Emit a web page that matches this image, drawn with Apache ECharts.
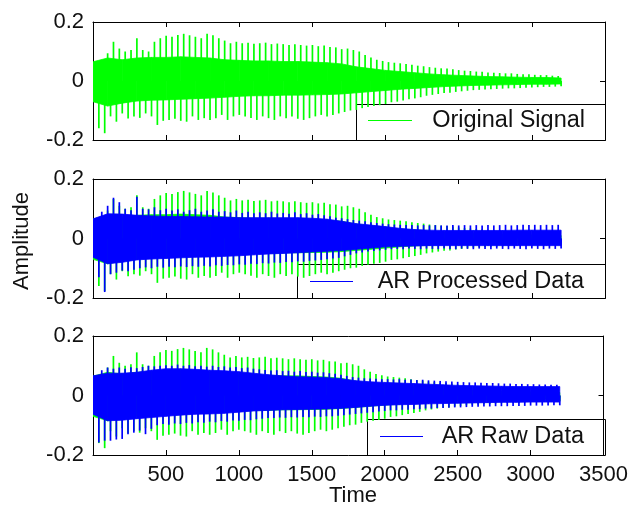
<!DOCTYPE html>
<html>
<head>
<meta charset="utf-8">
<script src="https://cdn.jsdelivr.net/npm/echarts@6/dist/echarts.min.js"></script>
<style>html,body{margin:0;padding:0;background:#fff}#c{width:631px;height:506px}</style>
</head>
<body>
<div id="c"></div>
<script>
// ---- data ----
const xTicks = [500, 1000, 1500, 2000, 2500, 3000, 3500];
const yTicks = [-0.2, 0, 0.2];
const legendNames = ['Original Signal', 'AR Processed Data', 'AR Raw Data'];

// dense core envelope, one value every 100 time units (t = 0..3200)
const coreStep = 100;
const greenCoreHi = [0.065,0.078,0.072,0.078,0.08,0.08,0.082,0.08,0.078,0.072,0.07,0.068,0.068,0.066,0.066,0.064,0.062,0.058,0.048,0.042,0.036,0.032,0.028,0.024,0.021,0.019,0.017,0.015,0.014,0.013,0.012,0.012,0.01];
const greenCoreLo = [-0.07,-0.085,-0.075,-0.068,-0.065,-0.064,-0.062,-0.06,-0.058,-0.055,-0.052,-0.05,-0.05,-0.048,-0.048,-0.047,-0.046,-0.044,-0.04,-0.036,-0.032,-0.028,-0.025,-0.022,-0.019,-0.017,-0.015,-0.014,-0.013,-0.012,-0.011,-0.011,-0.01];
const procCoreHi = [0.066,0.083,0.082,0.078,0.076,0.074,0.074,0.073,0.072,0.072,0.07,0.07,0.07,0.07,0.07,0.068,0.065,0.058,0.05,0.045,0.04,0.034,0.03,0.028,0.027,0.027,0.027,0.027,0.027,0.028,0.028,0.028,0.028];
const procCoreLo = [-0.063,-0.085,-0.08,-0.072,-0.069,-0.067,-0.065,-0.063,-0.062,-0.06,-0.058,-0.055,-0.052,-0.05,-0.048,-0.045,-0.043,-0.04,-0.036,-0.032,-0.028,-0.026,-0.025,-0.024,-0.024,-0.024,-0.024,-0.024,-0.024,-0.024,-0.024,-0.024,-0.024];
const rawCoreHi = [0.066,0.075,0.075,0.078,0.085,0.09,0.09,0.088,0.085,0.083,0.08,0.075,0.07,0.066,0.063,0.062,0.06,0.056,0.05,0.046,0.044,0.042,0.04,0.038,0.036,0.034,0.033,0.032,0.031,0.03,0.03,0.03,0.03];
const rawCoreLo = [-0.063,-0.085,-0.083,-0.078,-0.074,-0.07,-0.066,-0.063,-0.062,-0.06,-0.056,-0.052,-0.05,-0.048,-0.047,-0.046,-0.045,-0.043,-0.04,-0.036,-0.033,-0.031,-0.03,-0.028,-0.027,-0.026,-0.025,-0.024,-0.023,-0.023,-0.022,-0.022,-0.022];

// oscillation peaks, one every 40 time units (upper at t=20+40k, lower at t=40+40k)
const peakStep = 40;
const greenPeakHi = [0.065,0.07,0.094,0.133,0.11,0.1,0.105,0.145,0.105,0.1,
0.133,0.145,0.153,0.15,0.156,0.16,0.155,0.15,0.145,0.16,
0.155,0.145,0.137,0.128,0.133,0.128,0.13,0.126,0.128,0.13,
0.125,0.127,0.125,0.122,0.125,0.122,0.12,0.122,0.118,0.12,
0.115,0.114,0.108,0.11,0.105,0.1,0.088,0.08,0.072,0.068,
0.064,0.062,0.06,0.058,0.055,0.052,0.05,0.047,0.045,0.043,
0.042,0.04,0.037,0.035,0.034,0.032,0.031,0.029,0.028,0.027,
0.026,0.026,0.024,0.023,0.023,0.021,0.02,0.02,0.018,0.017];
const greenPeakLo = [-0.16,-0.177,-0.12,-0.138,-0.11,-0.127,-0.12,-0.125,-0.11,-0.12,
-0.149,-0.135,-0.132,-0.128,-0.135,-0.138,-0.12,-0.132,-0.126,-0.132,
-0.126,-0.115,-0.132,-0.12,-0.115,-0.12,-0.125,-0.132,-0.12,-0.126,
-0.132,-0.12,-0.126,-0.12,-0.128,-0.132,-0.126,-0.12,-0.115,-0.12,
-0.115,-0.11,-0.105,-0.1,-0.098,-0.092,-0.088,-0.085,-0.082,-0.078,
-0.072,-0.07,-0.066,-0.062,-0.059,-0.055,-0.05,-0.047,-0.044,-0.041,
-0.04,-0.037,-0.035,-0.033,-0.031,-0.03,-0.029,-0.028,-0.027,-0.026,
-0.025,-0.025,-0.024,-0.023,-0.022,-0.021,-0.02,-0.02,-0.019,-0.018];
const procPeakHi = [0.066,0.09,0.11,0.137,0.122,0.1,0.095,0.14,0.1,0.098,
0.105,0.095,0.1,0.094,0.098,0.09,0.095,0.1,0.09,0.094,
0.098,0.09,0.092,0.088,0.094,0.086,0.09,0.085,0.088,0.085,
0.09,0.084,0.086,0.083,0.088,0.082,0.085,0.08,0.082,0.078,
0.075,0.07,0.068,0.065,0.062,0.06,0.058,0.055,0.052,0.05,
0.048,0.047,0.046,0.045,0.045,0.044,0.045,0.044,0.045,0.044,
0.044,0.045,0.044,0.045,0.044,0.045,0.044,0.045,0.044,0.045,
0.046,0.044,0.045,0.046,0.045,0.046,0.045,0.046,0.045,0.046];
const procPeakLo = [-0.13,-0.18,-0.12,-0.115,-0.108,-0.11,-0.105,-0.1,-0.097,-0.1,
-0.095,-0.098,-0.095,-0.097,-0.094,-0.096,-0.093,-0.095,-0.092,-0.094,
-0.09,-0.092,-0.089,-0.09,-0.087,-0.088,-0.085,-0.086,-0.083,-0.084,
-0.081,-0.082,-0.079,-0.08,-0.077,-0.078,-0.075,-0.074,-0.072,-0.07,
-0.067,-0.065,-0.06,-0.055,-0.05,-0.047,-0.044,-0.042,-0.04,-0.038,
-0.036,-0.035,-0.036,-0.034,-0.035,-0.036,-0.034,-0.035,-0.036,-0.034,
-0.035,-0.036,-0.034,-0.035,-0.036,-0.034,-0.035,-0.036,-0.034,-0.035,
-0.036,-0.034,-0.035,-0.036,-0.034,-0.035,-0.036,-0.034,-0.035,-0.034];
const rawPeakHi = [0.066,0.085,0.094,0.09,0.094,0.09,0.095,0.092,0.096,0.1,
0.098,0.1,0.102,0.1,0.104,0.1,0.102,0.098,0.1,0.097,
0.1,0.096,0.098,0.094,0.096,0.092,0.094,0.09,0.088,0.086,
0.084,0.085,0.082,0.083,0.08,0.082,0.079,0.08,0.077,0.078,
0.075,0.073,0.07,0.066,0.062,0.06,0.058,0.057,0.056,0.055,
0.055,0.054,0.055,0.053,0.054,0.052,0.053,0.051,0.05,0.049,
0.048,0.047,0.046,0.045,0.044,0.044,0.043,0.042,0.042,0.041,
0.04,0.04,0.039,0.039,0.038,0.038,0.037,0.037,0.036,0.036];
const rawPeakLo = [-0.158,-0.152,-0.152,-0.148,-0.146,-0.13,-0.125,-0.118,-0.13,-0.112,
-0.1,-0.096,-0.098,-0.094,-0.096,-0.092,-0.094,-0.09,-0.092,-0.088,
-0.09,-0.086,-0.088,-0.084,-0.085,-0.082,-0.083,-0.08,-0.078,-0.076,
-0.076,-0.074,-0.075,-0.073,-0.074,-0.072,-0.073,-0.071,-0.072,-0.07,
-0.07,-0.068,-0.066,-0.064,-0.062,-0.06,-0.058,-0.056,-0.054,-0.052,
-0.05,-0.05,-0.048,-0.048,-0.046,-0.046,-0.044,-0.044,-0.042,-0.042,
-0.041,-0.04,-0.04,-0.039,-0.038,-0.038,-0.037,-0.037,-0.036,-0.036,
-0.036,-0.035,-0.035,-0.035,-0.034,-0.034,-0.034,-0.034,-0.033,-0.033];

// ---- build the chart ----
const GREEN = '#00ff00', BLUE = '#0000ff';
const FONT = 'Liberation Sans, Arial, sans-serif';
const grids = [
  {left: 93, top: 22, width: 512, height: 118},
  {left: 93, top: 179, width: 512, height: 119},
  {left: 93, top: 336, width: 512, height: 119}
];
const tickStyle = {inside: true, length: 5, lineStyle: {color: '#000', width: 1}};
const lineStyleAx = {lineStyle: {color: '#000', width: 1}};
const xAxis = [], yAxis = [];
grids.forEach((g, i) => {
  xAxis.push({gridIndex: i, type: 'value', min: 0, max: 3500, interval: 500, position: 'bottom',
    axisLine: Object.assign({show: true, onZero: false}, lineStyleAx), axisTick: tickStyle, splitLine: {show: false},
    axisLabel: {show: i === 2, showMinLabel: false, margin: 9, fontSize: 22, color: '#111', fontFamily: FONT,
      formatter: v => xTicks.includes(v) ? String(v) : ''}});
});
grids.forEach((g, i) => {
  xAxis.push({gridIndex: i, type: 'value', min: 0, max: 3500, interval: 500, position: 'top',
    axisLine: Object.assign({show: true, onZero: false}, lineStyleAx), axisTick: tickStyle, splitLine: {show: false},
    axisLabel: {show: false}});
});
grids.forEach((g, i) => {
  yAxis.push({gridIndex: i, type: 'value', min: yTicks[0], max: yTicks[2], interval: 0.2, position: 'left',
    axisLine: Object.assign({show: true, onZero: false}, lineStyleAx), axisTick: tickStyle, splitLine: {show: false},
    axisLabel: {margin: 9, fontSize: 22, color: '#111', fontFamily: FONT,
      formatter: v => Math.abs(v) < 1e-9 ? '0' : String(Math.round(v * 10) / 10)}});
});
grids.forEach((g, i) => {
  yAxis.push({gridIndex: i, type: 'value', min: yTicks[0], max: yTicks[2], interval: 0.2, position: 'right',
    axisLine: Object.assign({show: true, onZero: false}, lineStyleAx), axisTick: tickStyle, splitLine: {show: false},
    axisLabel: {show: false}});
});

// band between the core's upper and lower envelope, one polygon per segment
function coreSeries(name, hi, lo, color, gi) {
  const data = [];
  for (let k = 0; k < hi.length - 1; k++) {
    data.push([k * coreStep, hi[k], lo[k], (k + 1) * coreStep, hi[k + 1], lo[k + 1]]);
  }
  return {name, type: 'custom', xAxisIndex: gi, yAxisIndex: gi, silent: true, clip: true,
    data, encode: {x: [0, 3], y: [1, 2]}, itemStyle: {color},
    renderItem: (params, api) => {
      const a = api.coord([api.value(0), api.value(1)]);
      const b = api.coord([api.value(3), api.value(4)]);
      const c = api.coord([api.value(3), api.value(5)]);
      const d = api.coord([api.value(0), api.value(2)]);
      return {type: 'polygon', shape: {points: [a, b, c, d]},
        style: {fill: color, stroke: color, lineWidth: 0.8}};
    }};
}
function peakSeries(name, vals, offset, color, gi) {
  return {name, type: 'custom', xAxisIndex: gi, yAxisIndex: gi, silent: true, clip: true,
    data: vals.map((v, k) => [offset + k * peakStep, v]),
    encode: {x: 0, y: 1}, itemStyle: {color},
    renderItem: (params, api) => {
      const t = api.value(0), v = api.value(1);
      const p0 = api.coord([t, 0]), p1 = api.coord([t, v]);
      return {type: 'line', shape: {x1: p0[0], y1: p0[1], x2: p1[0], y2: p1[1]},
        style: {stroke: color, lineWidth: 1.7}};
    }};
}
function signal(name, hiCore, loCore, hiPeak, loPeak, color, gi) {
  return [coreSeries(name, hiCore, loCore, color, gi),
          peakSeries(name, hiPeak, 20, color, gi), peakSeries(name, loPeak, 40, color, gi)];
}
const series = [].concat(
  signal(legendNames[0], greenCoreHi, greenCoreLo, greenPeakHi, greenPeakLo, GREEN, 0),
  signal(legendNames[0], greenCoreHi, greenCoreLo, greenPeakHi, greenPeakLo, GREEN, 1),
  signal(legendNames[1], procCoreHi, procCoreLo, procPeakHi, procPeakLo, BLUE, 1),
  signal(legendNames[0], greenCoreHi, greenCoreLo, greenPeakHi, greenPeakLo, GREEN, 2),
  signal(legendNames[2], rawCoreHi, rawCoreLo, rawPeakHi, rawPeakLo, BLUE, 2)
);

function legendBox(x, y, w, h, lx1, lx2, ly, textRight, label, color) {
  return {type: 'group', z: 100, children: [
    {type: 'rect', shape: {x: x + 0.5, y: y + 0.5, width: w, height: h}, style: {fill: '#fff', stroke: '#000', lineWidth: 1}},
    {type: 'line', shape: {x1: lx1, y1: ly + 0.5, x2: lx2, y2: ly + 0.5}, style: {stroke: color, lineWidth: 1.2}},
    {type: 'text', x: textRight, y: ly + 1, style: {text: label, fill: '#111', font: '23.5px ' + FONT, textAlign: 'right', textVerticalAlign: 'middle'}}
  ]};
}

const chart = echarts.init(document.getElementById('c'), null, {renderer: 'canvas'});
chart.setOption({
  animation: false,
  backgroundColor: '#fff',
  grid: grids,
  xAxis, yAxis, series,
  graphic: [
    legendBox(356, 104, 249, 36, 368, 412, 120, 585, legendNames[0], GREEN),
    legendBox(297, 264, 308, 34, 310, 353, 281, 584, legendNames[1], BLUE),
    legendBox(367, 419, 238, 36, 380, 423, 436, 584, legendNames[2], BLUE),
    {type: 'text', z: 100, x: 353, y: 496, style: {text: 'Time', fill: '#111', font: '22px ' + FONT, textAlign: 'center', textVerticalAlign: 'middle'}},
    {type: 'text', z: 100, x: 22, y: 241, rotation: Math.PI / 2, style: {text: 'Amplitude', fill: '#111', font: '22px ' + FONT, textAlign: 'center', textVerticalAlign: 'middle'}}
  ]
});
</script>
</body>
</html>
